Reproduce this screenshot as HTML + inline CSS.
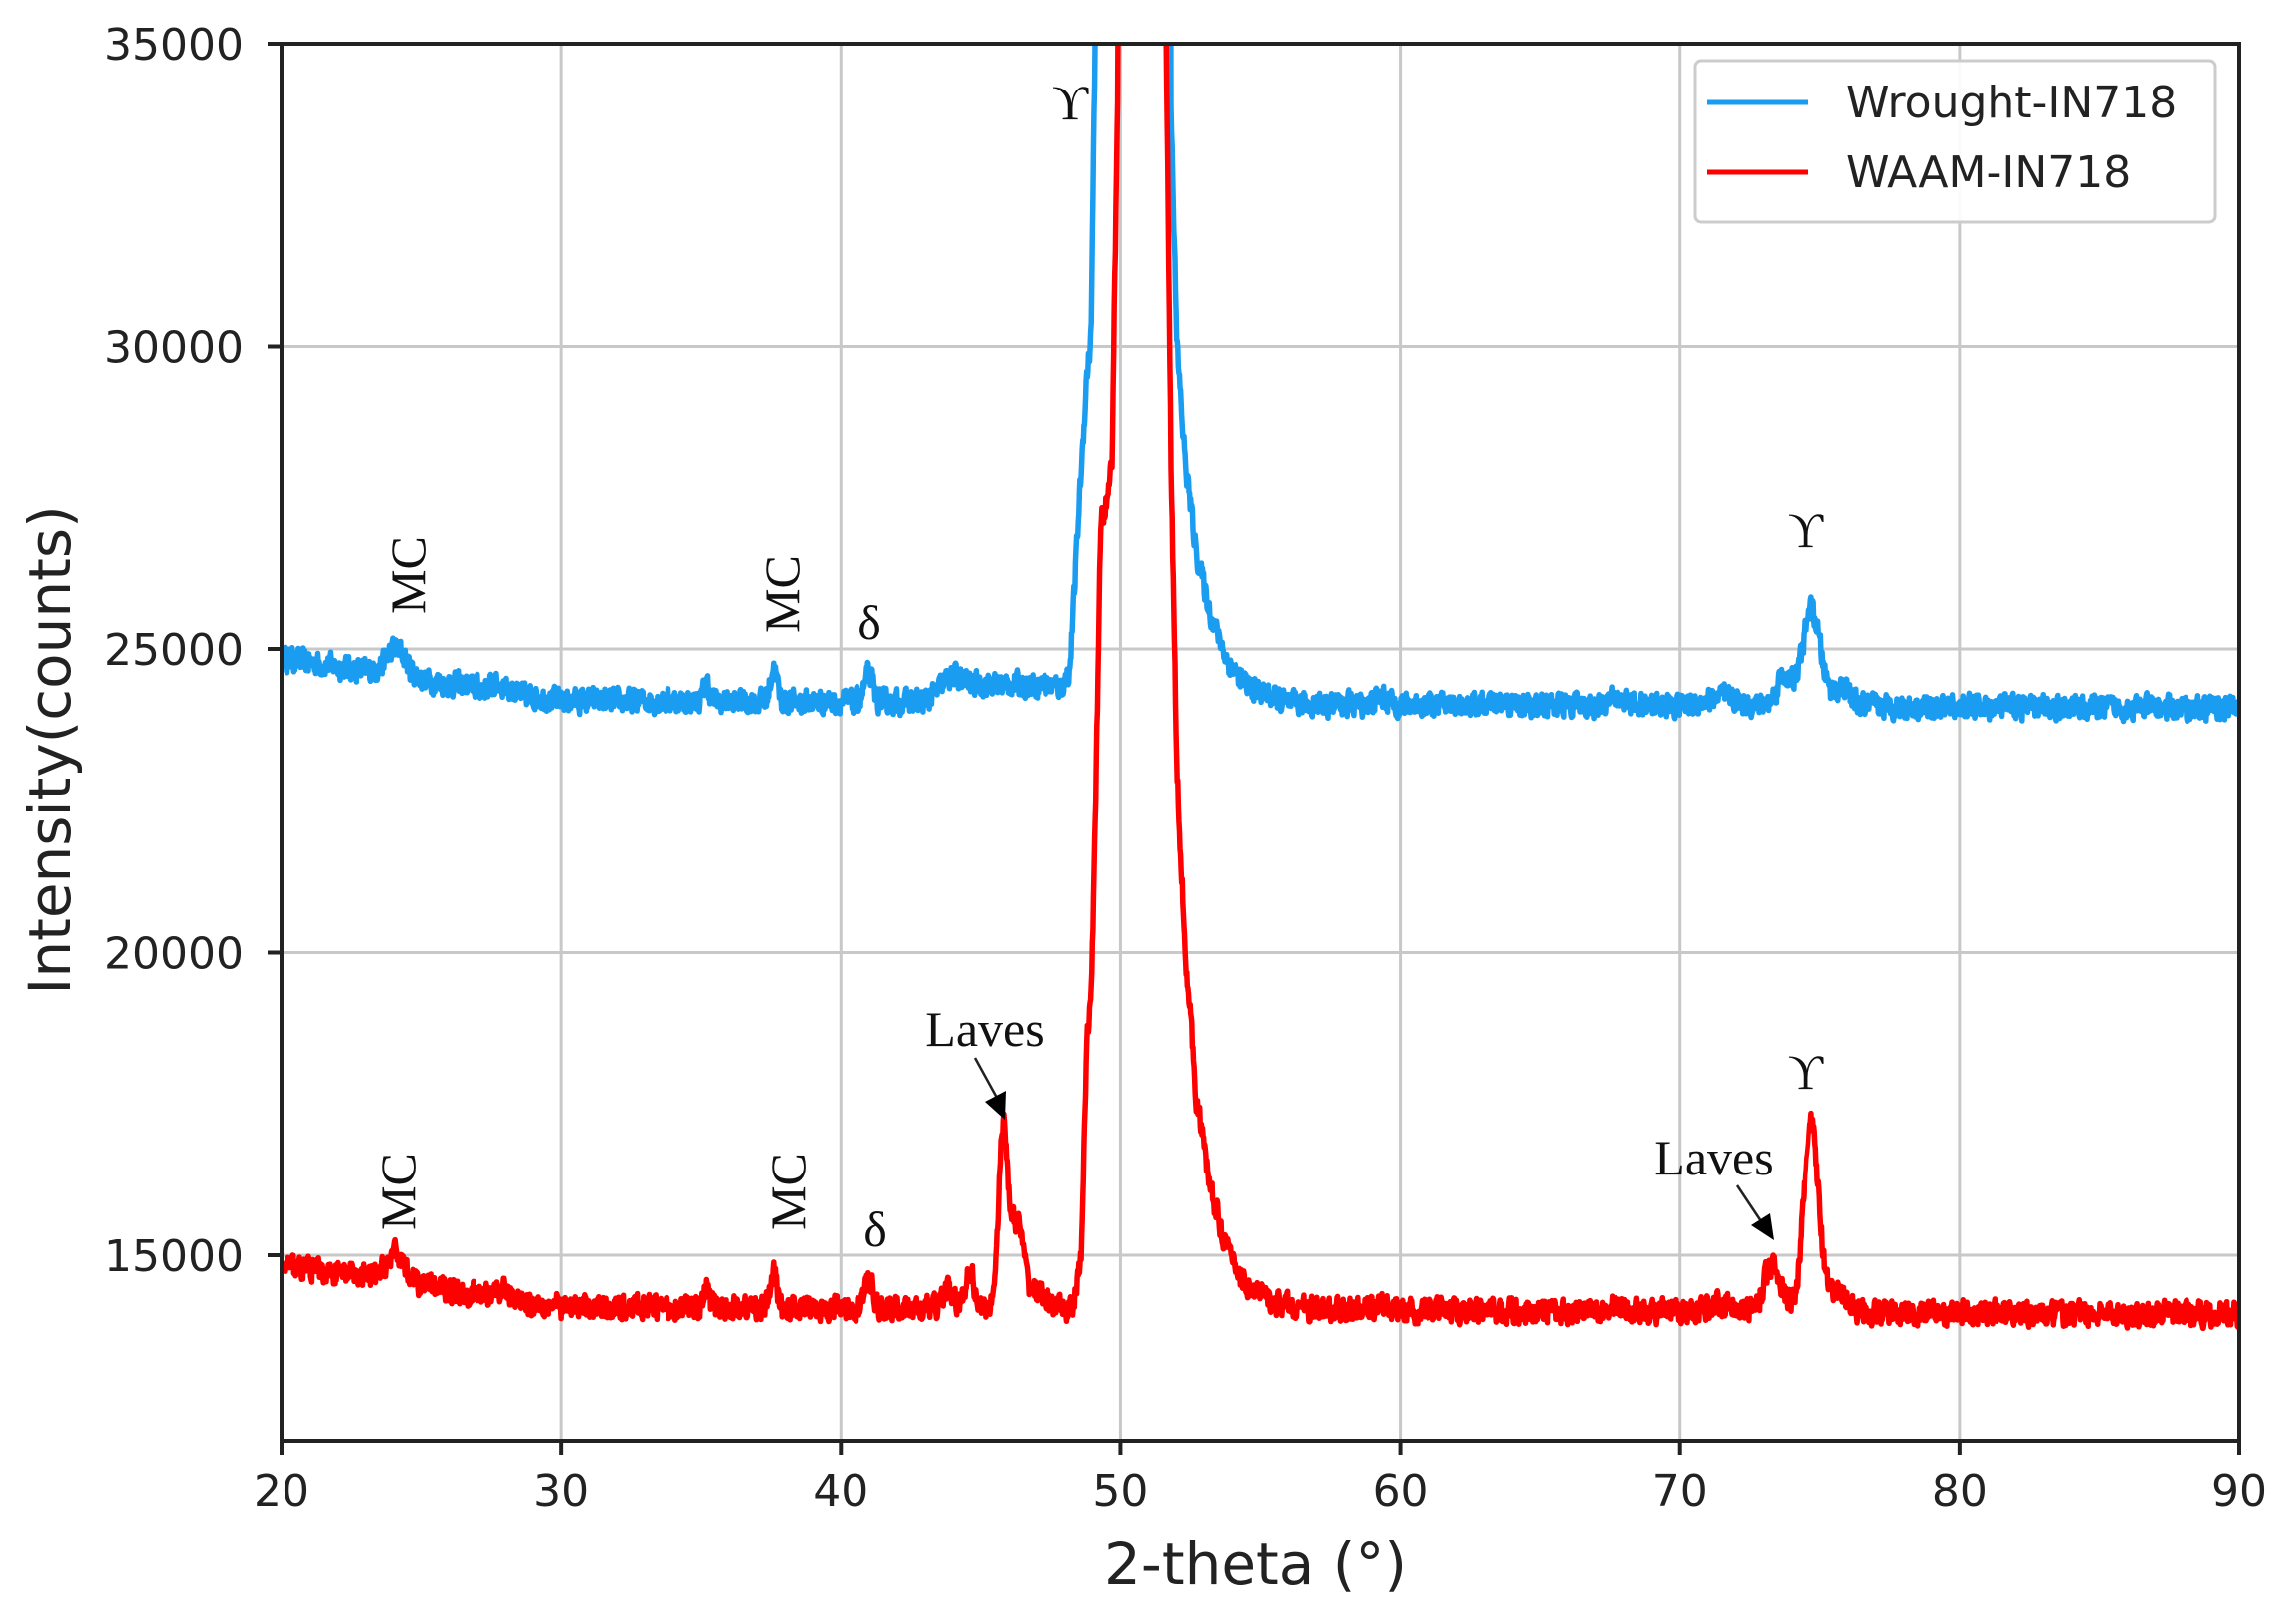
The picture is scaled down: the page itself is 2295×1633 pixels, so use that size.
<!DOCTYPE html>
<html><head><meta charset="utf-8">
<style>
html,body{margin:0;padding:0;background:#fff;}
svg{display:block;}
.tk{font-family:"DejaVu Sans","Liberation Sans",sans-serif;font-size:44px;fill:#222;}
.an{font-family:"Liberation Serif",serif;font-size:50px;fill:#111;}
</style></head>
<body>
<svg id="s" width="2295" height="1633" viewBox="0 0 2295 1633" xmlns="http://www.w3.org/2000/svg">
<defs><clipPath id="c"><rect x="283" y="44" width="1968" height="1405"/></clipPath></defs>
<g id="grid" stroke="#c8c8c8" stroke-width="3"></g>
<g id="data" clip-path="url(#c)"></g>
<rect x="283" y="44" width="1968" height="1405" fill="none" stroke="#222" stroke-width="4"/>
<g id="ticks" stroke="#222" stroke-width="4"></g>
<g id="labels"></g>
<text x="1262" y="1593" text-anchor="middle" font-family="DejaVu Sans, Liberation Sans, sans-serif" font-size="58" fill="#222">2-theta (°)</text>
<text transform="translate(70,754) rotate(-90)" text-anchor="middle" font-family="DejaVu Sans, Liberation Sans, sans-serif" font-size="58" fill="#222">Intensity(counts)</text>
<text class="an" transform="translate(427,578) rotate(-90)" text-anchor="middle">MC</text>
<text class="an" transform="translate(803,597) rotate(-90)" text-anchor="middle">MC</text>
<text class="an" x="874" y="643" text-anchor="middle">δ</text>
<text class="an" x="1076" y="120" text-anchor="middle">ϒ</text>
<text class="an" x="1815" y="550" text-anchor="middle">ϒ</text>
<text class="an" transform="translate(417,1198) rotate(-90)" text-anchor="middle">MC</text>
<text class="an" transform="translate(809,1198) rotate(-90)" text-anchor="middle">MC</text>
<text class="an" x="880" y="1253" text-anchor="middle">δ</text>
<text class="an" x="990" y="1052" text-anchor="middle">Laves</text>
<text class="an" x="1815" y="1095" text-anchor="middle">ϒ</text>
<text class="an" x="1723" y="1181" text-anchor="middle">Laves</text>
<line x1="980" y1="1064" x2="1002" y2="1104" stroke="#222" stroke-width="2.5"/>
<polygon points="1010,1126 990,1108 1011,1097" fill="#000"/>
<line x1="1746" y1="1192" x2="1770" y2="1228" stroke="#222" stroke-width="2.5"/>
<polygon points="1783,1247 1760,1232 1779,1220" fill="#000"/>
<rect x="1704" y="61" width="523" height="162" rx="6" fill="#fff" fill-opacity="0.9" stroke="#ccc" stroke-width="3"/>
<line x1="1716" y1="103" x2="1818" y2="103" stroke="#1a9cf0" stroke-width="5"/>
<line x1="1716" y1="173" x2="1818" y2="173" stroke="#ff0000" stroke-width="5"/>
<text class="tk" x="1856" y="118">Wrought-IN718</text>
<text class="tk" x="1856" y="188">WAAM-IN718</text>
</svg>
<script>
(function(){
var NS="http://www.w3.org/2000/svg";
function X(v){return 283+(v-20)*1968/70;}
function Y(v){return 44+(35000-v)*0.0609;}
var g=document.getElementById('grid'),t=document.getElementById('ticks'),l=document.getElementById('labels');
function el(p,n,a,txt){var e=document.createElementNS(NS,n);for(var k in a)e.setAttribute(k,a[k]);if(txt)e.textContent=txt;p.appendChild(e);return e;}
for(var v=20;v<=90;v+=10){var x=X(v);el(g,'line',{x1:x,y1:44,x2:x,y2:1449});el(t,'line',{x1:x,y1:1449,x2:x,y2:1463});el(l,'text',{x:x,y:1514,'text-anchor':'middle','class':'tk'},''+v);}
for(var v=15000;v<=35000;v+=5000){var y=Y(v);el(g,'line',{x1:283,y1:y,x2:2251,y2:y});el(t,'line',{x1:269,y1:y,x2:283,y2:y});el(l,'text',{x:245,y:y+16,'text-anchor':'end','class':'tk'},''+v);}
var seed=12345;function rnd(){seed=(seed*16807)%2147483647;return seed/2147483647;}
function interp(tab,x){if(x<=tab[0][0]||x>=tab[tab.length-1][0])return 0;for(var i=1;i<tab.length;i++){if(x<tab[i][0]){var a=tab[i-1],b=tab[i];return a[1]+(b[1]-a[1])*(x-a[0])/(b[0]-a[0]);}}return 0;}
function gs(x,c,h,s){return h*Math.exp(-(x-c)*(x-c)/(2*s*s));}
var redMain=[[48.3,0],[48.6,800],[48.8,4500],[48.95,5000],[49.1,8000],[49.3,13000],[49.5,13300],[49.7,14000],[49.9,20000],[50.1,40000],[51.5,40000],[51.6,22000],[51.8,14000],[52.0,9000],[52.3,6000],[52.7,3500],[53.2,2000],[53.8,1000],[54.5,400],[55.5,100],[57,0]];
var blueMain=[[47.9,0],[48.2,400],[48.5,3000],[48.8,5400],[48.95,6000],[49.1,11000],[49.2,40000],[51.65,40000],[51.8,10000],[52.0,6000],[52.3,4000],[52.7,2500],[53.2,1500],[53.8,700],[54.5,300],[56,0]];
function base(x){if(x<30)return 24850-(x-20)*70;return 24150-(x-30)*2;}
function common(x){return gs(x,24.1,450,0.35)+gs(x,35.2,300,0.1)+gs(x,37.6,550,0.12)+gs(x,41.0,450,0.15)+gs(x,27.8,120,0.3)+gs(x,59.3,120,0.2)+gs(x,67.8,100,0.3)+gs(x,71.5,150,0.5);}
function sm(x,a,b,w){return 1/(1+Math.exp(-(x-a)/w))*(1/(1+Math.exp((x-b)/w)));}
function blue(x){var v=base(x)+common(x)+interp(blueMain,x);
 v+=300*sm(x,43.4,48.2,0.2)+gs(x,44,150,0.3);
 v+=gs(x,74.7,1600,0.33)+gs(x,73.7,500,0.25)+gs(x,75.8,300,0.3);return v;}
function red(x){var v=base(x)-10000+common(x)+interp(redMain,x);
 v+=gs(x,43.8,300,0.2)+gs(x,44.6,650,0.15)+gs(x,45.8,2900,0.17)+gs(x,46.3,1400,0.22)+gs(x,47.0,300,0.3);
 v+=gs(x,74.7,3100,0.28)+gs(x,73.3,800,0.3)+gs(x,75.7,350,0.3);return v;}
function path(f,col){var d='',prev=0;for(var x=20.1;x<=90;x+=0.02){var n=(rnd()-0.5)*520;prev=0.3*prev+0.7*n;var v=f(x)+prev;d+=(d?'L':'M')+X(x).toFixed(1)+' '+Y(v).toFixed(1);}
 el(document.getElementById('data'),'path',{d:d,fill:'none',stroke:col,'stroke-width':5.5,'stroke-linejoin':'round'});}
path(blue,'#1a9cf0');path(red,'#ff0000');
})();
</script>
</body></html>
